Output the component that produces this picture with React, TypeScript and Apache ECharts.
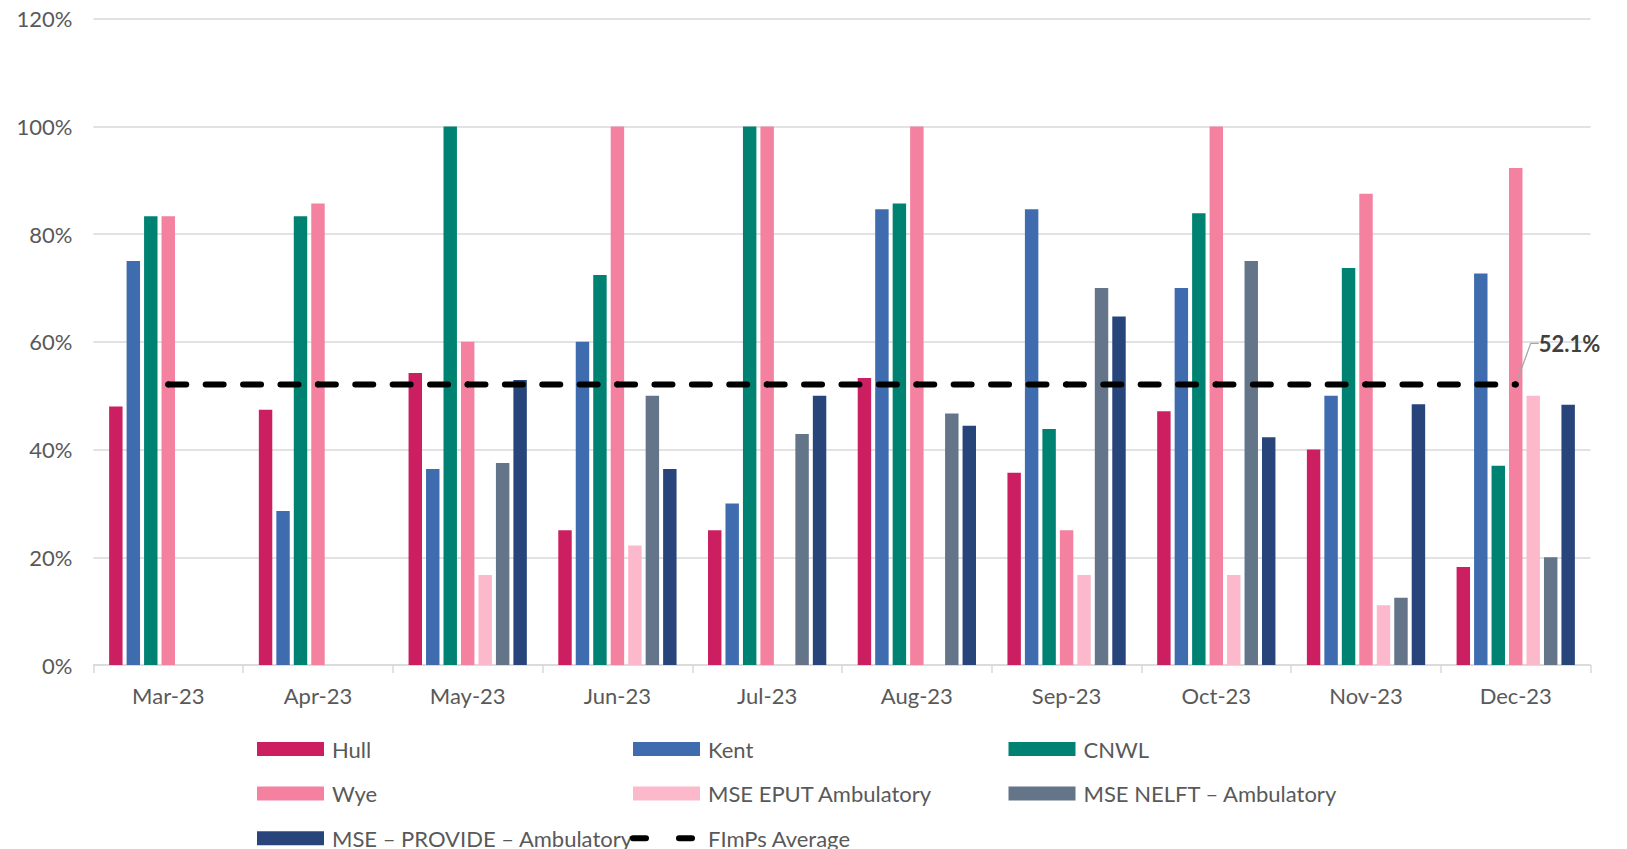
import React, { useEffect, useRef } from 'react';
import * as echarts from 'echarts';

const categories = ['Mar-23', 'Apr-23', 'May-23', 'Jun-23', 'Jul-23', 'Aug-23', 'Sep-23', 'Oct-23', 'Nov-23', 'Dec-23'];

const hull = [48.0, 47.4, 54.2, 25.0, 25.0, 53.3, 35.7, 47.1, 40.0, 18.2];
const kent = [75.0, 28.6, 36.4, 60.0, 30.0, 84.6, 84.6, 70.0, 50.0, 72.7];
const cnwl = [83.3, 83.3, 100, 72.4, 100, 85.7, 43.8, 83.9, 73.7, 37.0];
const wye = [83.3, 85.7, 60.0, 100, 100, 100, 25.0, 100, 87.5, 92.3];
const mseEput = [null, null, 16.7, 22.2, null, null, 16.7, 16.7, 11.1, 50.0];
const mseNelft = [null, null, 37.5, 50.0, 42.9, 46.7, 70.0, 75.0, 12.5, 20.0];
const mseProvide = [null, null, 52.9, 36.4, 50.0, 44.4, 64.7, 42.3, 48.4, 48.3];
const fimpsAverage = [52.1, 52.1, 52.1, 52.1, 52.1, 52.1, 52.1, 52.1, 52.1, 52.1];

const barNames = ['Hull', 'Kent', 'CNWL', 'Wye', 'MSE EPUT Ambulatory', 'MSE NELFT – Ambulatory', 'MSE – PROVIDE – Ambulatory'];
const averageName = 'FImPs Average';
const averageLabel = '52.1%';
const yTicks = { min: 0, max: 120, interval: 20 };

const barColors = ['#CC1F62', '#3F6CAF', '#008272', '#F3819F', '#FDB9CC', '#64758A', '#27457A'];

export default function App() {
  const ref = useRef<HTMLDivElement>(null);

  useEffect(() => {
    const chart = echarts.init(ref.current!, null, { renderer: 'svg' });
    const font = 'Lato, "Noto Sans", sans-serif';
    const textColor = '#595959';
    const barData = [hull, kent, cnwl, wye, mseEput, mseNelft, mseProvide];
    const last = fimpsAverage.length - 1;

    const bars = barNames.map((name, i) => ({
      name,
      type: 'bar',
      data: barData[i],
      barGap: '30%',
      barCategoryGap: '21%',
      itemStyle: { color: barColors[i] },
      z: 2,
    }));

    const line = {
      name: averageName,
      type: 'line',
      data: fimpsAverage.map((v, i) =>
        i === last
          ? {
              value: v,
              label: {
                show: true,
                formatter: averageLabel,
                position: 'right',
                distance: 4,
                fontFamily: font,
                fontSize: 22,
                fontWeight: 'bold',
                color: '#404040',
              },
              labelLine: { show: true },
            }
          : v
      ),
      symbol: 'circle',
      symbolSize: 6,
      showSymbol: true,
      itemStyle: { color: '#000' },
      lineStyle: { color: '#000', width: 6, type: [18, 19.4], cap: 'round' },
      label: { show: false },
      labelLine: { show: false, length2: 8, lineStyle: { color: '#a6a6a6', width: 1.3 } },
      labelLayout: (p: any) => (p.dataIndex === last ? { dx: 16, dy: -41 } : {}),
      z: 5,
    };

    const legendCommon = {
      orient: 'vertical',
      top: 738,
      height: 200,
      padding: 0,
      itemWidth: 67,
      itemHeight: 14,
      itemGap: 22.6,
      selectedMode: false,
      textStyle: { fontFamily: font, fontSize: 22, color: textColor, lineHeight: 22, padding: [0, 0, 0, 3] },
    };

    chart.setOption({
      animation: false,
      backgroundColor: '#fff',
      textStyle: { fontFamily: font },
      grid: { left: 93.4, right: 36.4, top: 18.7, bottom: 184, containLabel: false },
      legend: [
        { ...legendCommon, left: 257, data: [{ name: barNames[0], icon: 'rect' }, { name: barNames[3], icon: 'rect' }, { name: barNames[6], icon: 'rect' }] },
        {
          ...legendCommon,
          left: 630,
          data: [
            { name: barNames[1], icon: 'rect' },
            { name: barNames[4], icon: 'rect' },
            { name: averageName, itemStyle: { opacity: 0 }, lineStyle: { color: '#000', width: 6, type: [13, 33], cap: 'round' } },
          ],
        },
        { ...legendCommon, left: 1008.5, data: [{ name: barNames[2], icon: 'rect' }, { name: barNames[5], icon: 'rect' }] },
      ],
      xAxis: {
        type: 'category',
        data: categories,
        boundaryGap: true,
        axisLine: { lineStyle: { color: '#d9d9d9', width: 1.5 } },
        axisTick: { show: true, length: 8, lineStyle: { color: '#d9d9d9', width: 1.5 } },
        axisLabel: { fontFamily: font, fontSize: 22, color: textColor, margin: 19 },
      },
      yAxis: {
        type: 'value',
        min: yTicks.min,
        max: yTicks.max,
        interval: yTicks.interval,
        axisLine: { show: false },
        axisTick: { show: false },
        axisLabel: { fontFamily: font, fontSize: 22, color: textColor, margin: 21, formatter: '{value}%' },
        splitLine: { lineStyle: { color: '#d9d9d9', width: 1.5 } },
      },
      series: [...bars, line],
    });

    return () => chart.dispose();
  }, []);

  return <div ref={ref} style={{ position: 'absolute', left: 0, top: 0, width: 1627, height: 849 }} />;
}
